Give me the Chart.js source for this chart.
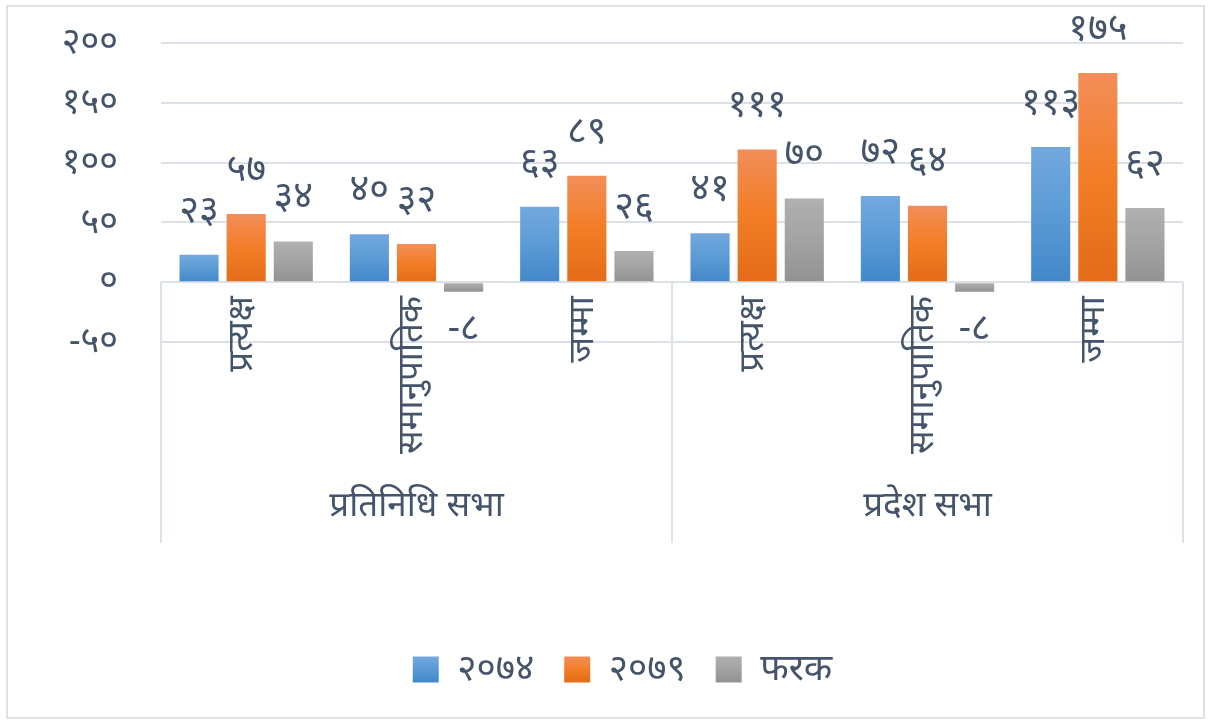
<!DOCTYPE html>
<html>
<head>
<meta charset="utf-8">
<script src="https://cdn.jsdelivr.net/npm/chart.js@4"></script>
<style>
  html, body { margin: 0; background: #fff; }
  #wrap { width: 1210px; height: 724px; position: relative; }
</style>
</head>
<body>
<div id="wrap"><canvas id="chart"></canvas></div>
<script>
// data
const groups = ['प्रतिनिधि सभा', 'प्रदेश सभा'];
const categories = ['प्रत्यक्ष', 'समानुपातिक', 'जम्मा', 'प्रत्यक्ष', 'समानुपातिक', 'जम्मा'];
const seriesNames = ['२०७४', '२०७९', 'फरक'];
const values2074 = [23, 40, 63, 41, 72, 113];
const values2079 = [57, 32, 89, 111, 64, 175];
const valuesDiff = [34, -8, 26, 70, -8, 62];
const yMin = -50, yMax = 200, yStep = 50;

const TEXT = '#44546A';
const FONT = "'Noto Sans', 'Noto Sans Devanagari', sans-serif";

// western -> devanagari digits
function toNep(n) {
  const d = '०१२३४५६७८९';
  return String(n).replace(/[0-9]/g, c => d[+c]);
}

const stops = [
  ['#73A8DE', '#5B9BD5', '#4387C9'],
  ['#F28E59', '#F37D26', '#E36B19'],
  ['#B0B0B0', '#A3A3A3', '#929292']
];

function barFill(i) {
  return (ctx) => {
    const chart = ctx.chart;
    if (!chart.chartArea || ctx.type !== 'data') return stops[i][1];
    const y = chart.scales.y;
    const top = y.getPixelForValue(Math.max(ctx.raw, 0));
    let bot = y.getPixelForValue(Math.min(ctx.raw, 0));
    if (bot - top < 2) bot = top + 2;
    const g = chart.ctx.createLinearGradient(0, top, 0, bot);
    g.addColorStop(0, stops[i][0]);
    g.addColorStop(0.5, stops[i][1]);
    g.addColorStop(1, stops[i][2]);
    return g;
  };
}

// labels, separators, group names, frame
const decorations = {
  id: 'decorations',
  afterDatasetsDraw(chart) {
    const { ctx, chartArea, scales } = chart;
    const x = scales.x, y = scales.y;
    const y0 = y.getPixelForValue(0);
    const bottom = 543;
    ctx.save();

    // frame
    ctx.strokeStyle = '#D9D9D9';
    ctx.lineWidth = 1.5;
    ctx.strokeRect(7, 6, 1197, 712);

    // separators
    ctx.strokeStyle = '#DCE1E8';
    ctx.lineWidth = 2;
    const mid = (x.getPixelForValue(2) + x.getPixelForValue(3)) / 2;
    [chartArea.left, mid, chartArea.right].forEach(px => {
      ctx.beginPath();
      ctx.moveTo(px, y0);
      ctx.lineTo(px, bottom);
      ctx.stroke();
    });

    ctx.fillStyle = TEXT;

    // category labels, rotated
    ctx.font = '35px ' + FONT;
    categories.forEach((c, i) => {
      ctx.save();
      ctx.translate(x.getPixelForValue(i) - 4, y0 + 14);
      ctx.rotate(-Math.PI / 2);
      ctx.textAlign = 'right';
      ctx.textBaseline = 'middle';
      ctx.fillText(c, 0, 0);
      ctx.restore();
    });

    // group labels
    ctx.font = '35px ' + FONT;
    ctx.textAlign = 'center';
    ctx.textBaseline = 'middle';
    ctx.fillText(groups[0], (chartArea.left + mid) / 2, 506);
    ctx.fillText(groups[1], (mid + chartArea.right) / 2, 506);

    // data labels
    ctx.font = '38px ' + FONT;
    chart.data.datasets.forEach((ds, di) => {
      chart.getDatasetMeta(di).data.forEach((el, i) => {
        const v = ds.data[i];
        const ly = v >= 0 ? el.y - 44 : el.y + 37;
        ctx.fillText(toNep(v), el.x, ly);
      });
    });
    ctx.restore();
  }
};

new Chart(document.getElementById('chart'), {
  type: 'bar',
  data: {
    labels: categories,
    datasets: [
      { label: seriesNames[0], data: values2074, backgroundColor: barFill(0) },
      { label: seriesNames[1], data: values2079, backgroundColor: barFill(1) },
      { label: seriesNames[2], data: valuesDiff, backgroundColor: barFill(2) }
    ]
  },
  options: {
    responsive: true,
    maintainAspectRatio: false,
    animation: false,
    categoryPercentage: 0.83,
    barPercentage: 0.83,
    layout: { padding: { top: 43, left: 62, right: 27, bottom: 26 } },
    plugins: {
      tooltip: { enabled: false },
      legend: {
        position: 'bottom',
        labels: {
          color: TEXT,
          font: { family: FONT, size: 37 },
          boxWidth: 26,
          boxHeight: 26,
          padding: 30,
          generateLabels(chart) {
            return chart.data.datasets.map((ds, i) => {
              const g = chart.ctx.createLinearGradient(0, 656, 0, 682);
              g.addColorStop(0, stops[i][0]);
              g.addColorStop(0.5, stops[i][1]);
              g.addColorStop(1, stops[i][2]);
              return {
                text: ds.label, fillStyle: g, strokeStyle: 'rgba(0,0,0,0)',
                lineWidth: 0, fontColor: TEXT, datasetIndex: i, hidden: false
              };
            });
          }
        }
      }
    },
    scales: {
      x: {
        grid: { display: false },
        border: { display: false },
        ticks: { display: false },
        afterFit(scale) { scale.height = 279; }
      },
      y: {
        min: yMin,
        max: yMax,
        grid: {
          color: '#DCE1E8', lineWidth: 2,
          drawTicks: true, tickLength: 35, tickColor: 'rgba(0,0,0,0)'
        },
        border: { display: false },
        ticks: {
          stepSize: yStep,
          padding: 8,
          color: TEXT,
          font: { family: FONT, size: 36 },
          callback: v => toNep(v)
        },
        afterFit(scale) { scale.width = 161 - 62; }
      }
    }
  },
  plugins: [decorations]
});
</script>
</body>
</html>
